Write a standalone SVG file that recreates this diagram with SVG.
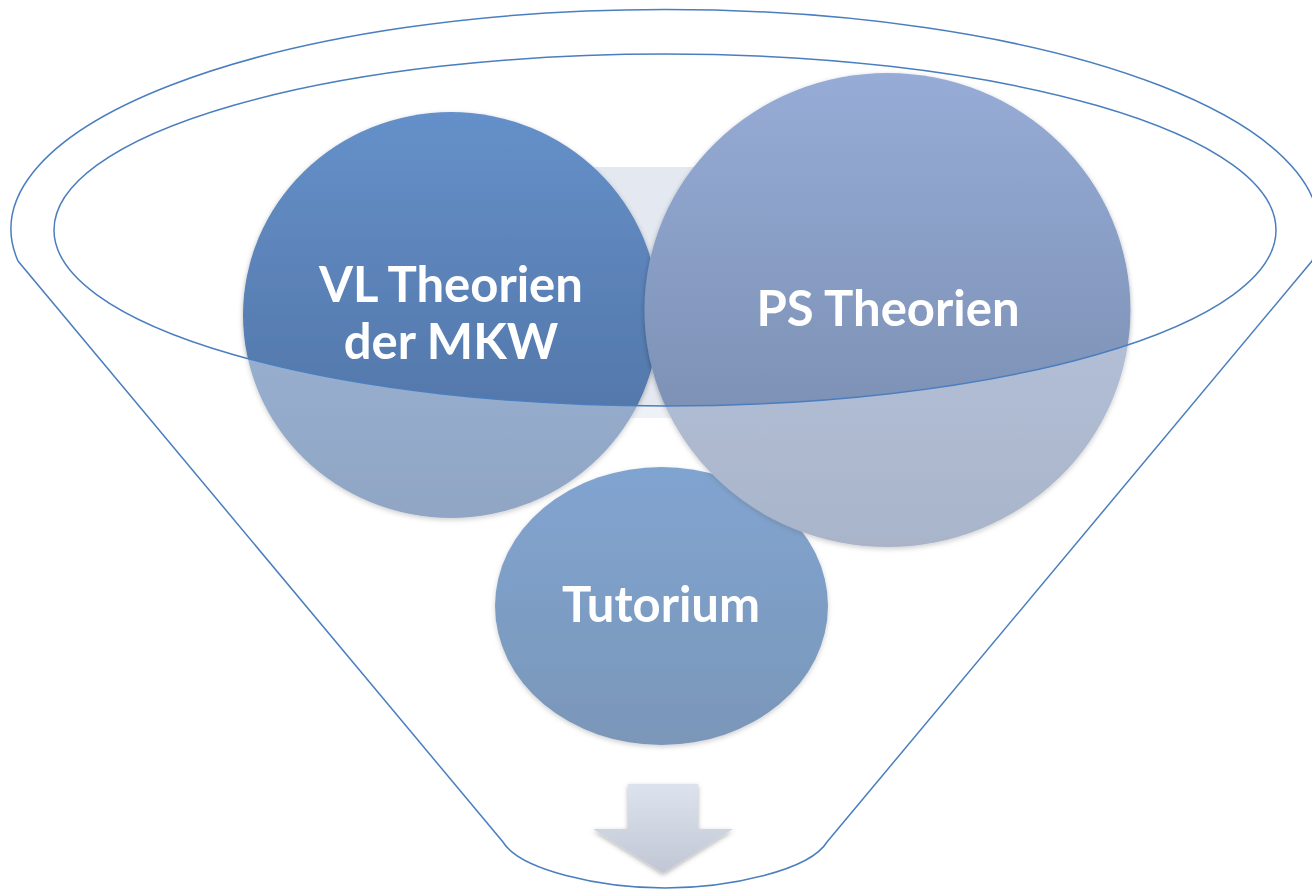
<svg xmlns="http://www.w3.org/2000/svg" width="1312" height="889" viewBox="0 0 1312 889">
  <style>
    .lbl { font-family: Lato, "Open Sans", "Liberation Sans", sans-serif; font-weight: 700; font-size: 49px; fill: #ffffff; text-anchor: middle; }
    .funnel-line { fill: none; stroke: #4a7ebf; stroke-width: 1.5; }
  </style>
  <defs>
    <linearGradient id="gVL" x1="0" y1="112" x2="0" y2="518" gradientUnits="userSpaceOnUse">
      <stop offset="0" stop-color="#6590c9"/>
      <stop offset="1" stop-color="#4d6fa0"/>
    </linearGradient>
    <linearGradient id="gPS" x1="0" y1="73" x2="0" y2="547" gradientUnits="userSpaceOnUse">
      <stop offset="0" stop-color="#96acd6"/>
      <stop offset="1" stop-color="#7487a9"/>
    </linearGradient>
    <linearGradient id="gTU" x1="0" y1="467" x2="0" y2="745" gradientUnits="userSpaceOnUse">
      <stop offset="0" stop-color="#336db4"/>
      <stop offset="1" stop-color="#2a578e"/>
    </linearGradient>
    <linearGradient id="gAR" x1="0" y1="784" x2="0" y2="873" gradientUnits="userSpaceOnUse">
      <stop offset="0" stop-color="#dde3ee"/>
      <stop offset="1" stop-color="#c0c6d3"/>
    </linearGradient>
    <filter id="sh" x="-10%" y="-10%" width="120%" height="125%">
      <feDropShadow dx="0" dy="2" stdDeviation="2.5" flood-color="#000000" flood-opacity="0.3"/>
    </filter>
  </defs>

  <!-- background band behind circles -->
  <rect x="340" y="167" width="710" height="251" fill="#e4e8f0"/>

  <g id="node-tutorium">
    <ellipse cx="661.5" cy="606" rx="166.5" ry="139" fill="url(#gTU)" filter="url(#sh)"/>
  </g>
  <g id="node-vl">
    <ellipse cx="451" cy="315" rx="208" ry="203" fill="url(#gVL)" filter="url(#sh)"/>
  </g>
  <g id="node-ps">
    <ellipse cx="887.5" cy="310" rx="243" ry="237" fill="url(#gPS)" filter="url(#sh)"/>
  </g>

  <!-- funnel body: translucent white outside the mouth ellipse -->
  <g id="funnel">
    <path fill="#ffffff" fill-opacity="0.38" fill-rule="evenodd"
      d="M18,261 A654,219.5 0 1 1 1312,261 L827,842 C810,870 730,888 665,888 C600,888 520,870 503,842 Z
         M54,230 A611,176 0 1 0 1276,230 A611,176 0 1 0 54,230 Z"/>
    <path class="funnel-line" d="M18,261 A654,219.5 0 1 1 1312,261 L827,842 C810,870 730,888 665,888 C600,888 520,870 503,842 Z"/>
    <ellipse class="funnel-line" cx="665" cy="230" rx="611" ry="176"/>
  </g>

  <g id="connectors">
    <path d="M628,784 L698,784 L698,829 L733,829 L663,873 L593,829 L628,829 Z" fill="url(#gAR)" filter="url(#sh)"/>
  </g>

  <g id="labels">
    <text class="lbl" x="451" y="302">VL Theorien</text>
    <text class="lbl" x="451" y="359">der MKW</text>
    <text class="lbl" x="888" y="326">PS Theorien</text>
    <text class="lbl" x="661" y="622">Tutorium</text>
  </g>
</svg>
